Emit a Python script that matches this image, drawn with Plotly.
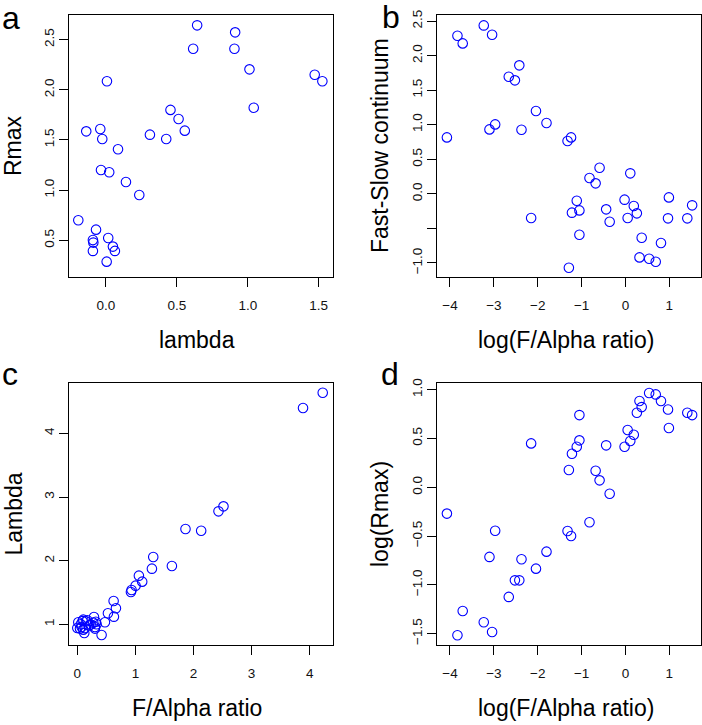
import plotly.graph_objects as go

# ---- Panel a: lambda vs Rmax ----
lam = [-0.195, -0.139, -0.070, -0.092, -0.089, -0.092, -0.040, -0.026, -0.035, 0.007,
       0.023, 0.016, 0.049, 0.063, 0.005, 0.085, 0.141, 0.235, 0.310, 0.425,
       0.455, 0.512, 0.556, 0.615, 0.643, 0.906, 0.911, 1.012, 1.042, 1.472, 1.526]
rmax = [0.70, 1.586, 0.606, 0.503, 0.477, 0.394, 1.61, 1.51, 1.20, 2.085,
        1.178, 0.523, 0.437, 0.394, 0.287, 1.407, 1.081, 0.952, 1.553, 1.51,
        1.80, 1.709, 1.593, 2.41, 2.643, 2.41, 2.573, 2.204, 1.822, 2.151, 2.085]

# ---- Panels b & d: log(F/Alpha ratio) ----
log_fa = [-4.07, -3.83, -3.71, -3.23, -3.04, -3.10, -2.97, -2.66, -2.52, -2.42,
          -2.37, -2.04, -1.80, -2.15, -1.32, -1.24, -1.29, -1.22, -1.11, -1.05,
          -1.05, -0.82, -0.68, -0.59, -0.44, -0.36, -0.02, 0.05, 0.11, 0.19,
          0.26, 0.37, 0.32, 0.54, 0.69, 0.81, 0.97, 0.99, 1.41, 1.52]
fast_slow = [0.817, 2.288, 2.177, 2.437, 2.302, 0.933, 1.005, 1.695, 1.642, 1.859,
             0.928, 1.198, 1.025, -0.35, 0.764, 0.817, -1.068, -0.272, -0.099, -0.239,
             -0.591, 0.229, 0.152, 0.378, -0.224, -0.403, -0.084, -0.35, 0.297, -0.176,
             -0.282, -0.634, -0.919, -0.938, -0.981, -0.711, -0.354, -0.051, -0.354, -0.166]
log_rmax = [-0.27, -1.517, -1.268, -1.384, -1.483, -0.714, -0.445, -1.124, -0.954, -0.954,
            -0.738, -0.834, -0.66, 0.45, -0.448, -0.50, 0.177, 0.344, 0.416, 0.481,
            0.74, -0.359, 0.17, 0.071, 0.43, -0.066, 0.416, 0.587, 0.474, 0.539,
            0.764, 0.822, 0.884, 0.966, 0.952, 0.884, 0.798, 0.607, 0.764, 0.74]

# ---- Panel c: F/Alpha ratio vs Lambda ----
fa_ratio = [4.224, 3.885, 2.516, 2.430, 1.862, 2.132, 1.307, 1.284, 1.628, 1.060,
            1.117, 1.003, 0.934, 0.923, 0.625, 0.665, 0.630, 0.527, 0.476, 0.418,
            0.287, 0.332, 0.304, 0.275, 0.229, 0.103, 0.149, 0.017, 0.000, 0.046,
            0.074, 0.120, 0.103, 0.304, 0.172, 0.060, 0.200, 0.130, 0.320, 0.090]
lambda_c = [4.639, 4.398, 2.853, 2.775, 2.497, 2.471, 2.058, 1.874, 1.916, 1.764,
            1.670, 1.607, 1.539, 1.508, 1.366, 1.251, 1.120, 1.173, 1.031, 0.832,
            1.115, 1.000, 0.958, 1.026, 0.995, 1.073, 1.047, 1.031, 0.942, 0.932,
            0.958, 0.864, 0.916, 0.932, 1.063, 1.000, 0.980, 0.940, 1.040, 1.050]

# tick positions (labels formatted by the axes)
a_xticks = [0.0, 0.5, 1.0, 1.5]
a_yticks = [0.5, 1.0, 1.5, 2.0, 2.5]
bd_xticks = [-4, -3, -2, -1, 0, 1]
b_yticks = [-1.0, 0.0, 0.5, 1.0, 1.5, 2.0, 2.5]
b_yticks_unlabelled = [-0.5]
c_xticks = [0, 1, 2, 3, 4]
c_yticks = [1, 2, 3, 4]
d_yticks = [-1.5, -1.0, -0.5, 0.0, 0.5, 1.0]

W, H = 702, 725
FONT = "Liberation Sans, Arial, Helvetica, sans-serif"
LINE = "black"


def fx(p):
    return p / W


def fy(p):
    return 1 - p / H


marker = dict(symbol="circle-open", size=9.5, color="#0000ff",
              line=dict(width=1.1, color="#0000ff"))

fig = go.Figure()
fig.add_trace(go.Scatter(x=lam, y=rmax, mode="markers", marker=marker, xaxis="x", yaxis="y"))
fig.add_trace(go.Scatter(x=log_fa, y=fast_slow, mode="markers", marker=marker, xaxis="x2", yaxis="y2"))
fig.add_trace(go.Scatter(x=fa_ratio, y=lambda_c, mode="markers", marker=marker, xaxis="x3", yaxis="y3"))
fig.add_trace(go.Scatter(x=log_fa, y=log_rmax, mode="markers", marker=marker, xaxis="x4", yaxis="y4"))

TL = 9
common = dict(showline=True, mirror=True, linecolor=LINE, linewidth=1,
              ticks="outside", ticklen=TL, tickwidth=1, tickcolor=LINE,
              showgrid=False, zeroline=False, tickmode="array",
              tickfont=dict(family=FONT, size=13.5, color="#111111"))

left_dom = [fx(69), fx(333)]
right_dom = [fx(437), fx(701)]
top_dom = [fy(277.3), fy(14.7)]
bot_dom = [fy(645.3), fy(382.7)]

XS = 6
fig.update_layout(
    width=W, height=H, margin=dict(l=0, r=0, t=0, b=0, autoexpand=False),
    paper_bgcolor="white", plot_bgcolor="white", showlegend=False,
    xaxis=dict(common, domain=left_dom, anchor="y", range=[-0.2606, 1.601],
               tickvals=a_xticks, tickformat=".1f", ticklabelstandoff=XS),
    yaxis=dict(common, domain=top_dom, anchor="x", range=[0.131, 2.749],
               tickvals=a_yticks, tickformat=".1f", tickangle=-90),
    xaxis2=dict(common, domain=right_dom, anchor="y2", range=[-4.296, 1.722],
                tickvals=bd_xticks, tickformat="d", ticklabelstandoff=XS),
    yaxis2=dict(common, domain=top_dom, anchor="x2", range=[-1.207, 2.592],
                tickvals=b_yticks, tickformat=".1f", tickangle=-90,
                minor=dict(tickmode="array", tickvals=b_yticks_unlabelled, ticks="outside",
                           ticklen=TL, tickwidth=1, tickcolor=LINE, showgrid=False)),
    xaxis3=dict(common, domain=left_dom, anchor="y3", range=[-0.143, 4.401],
                tickvals=c_xticks, tickformat="d", ticklabelstandoff=XS),
    yaxis3=dict(common, domain=bot_dom, anchor="x3", range=[0.670, 4.796],
                tickvals=c_yticks, tickformat="d", tickangle=-90),
    xaxis4=dict(common, domain=right_dom, anchor="y4", range=[-4.296, 1.722],
                tickvals=bd_xticks, tickformat="d", ticklabelstandoff=XS),
    yaxis4=dict(common, domain=bot_dom, anchor="x4", range=[-1.620, 1.072],
                tickvals=d_yticks, tickformat=".1f", tickangle=-90),
)

TS = 23
annots = []
for txt, cx, base in [("lambda", 197, 348), ("log(F/Alpha ratio)", 566, 347.5),
                      ("F/Alpha ratio", 197, 716), ("log(F/Alpha ratio)", 566, 716)]:
    annots.append(dict(text=txt, x=fx(cx), y=fy(base - 0.347 * TS), xref="paper", yref="paper",
                       xanchor="center", yanchor="middle", showarrow=False,
                       font=dict(family=FONT, size=TS, color="black")))
for txt, base, cy in [("Rmax", 21, 146), ("Fast-Slow continuum", 388, 146),
                      ("Lambda", 21.5, 514), ("log(Rmax)", 388, 514)]:
    annots.append(dict(text=txt, x=fx(base - 0.347 * TS), y=fy(cy), xref="paper", yref="paper",
                       xanchor="center", yanchor="middle", showarrow=False, textangle=-90,
                       font=dict(family=FONT, size=TS, color="black")))
LS = 32
for txt, lx, base in [("a", 0.0, 29.0), ("b", 379.5, 28.5), ("c", 0.0, 385.3), ("d", 379, 385.3)]:
    annots.append(dict(text=txt, x=fx(lx), y=fy(base - 0.347 * LS), xref="paper", yref="paper",
                       xanchor="left", yanchor="middle", showarrow=False,
                       font=dict(family=FONT, size=LS, color="black")))
fig.update_layout(annotations=annots)

fig.write_html("out.html")
